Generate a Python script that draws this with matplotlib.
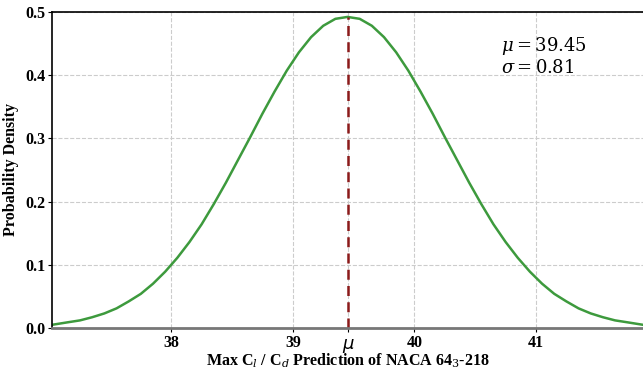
import matplotlib
matplotlib.use('Agg')
import matplotlib.pyplot as plt

mu = 39.45
sigma = 0.81

# points
x_vals = [37.02, 37.15, 37.25, 37.35, 37.45, 37.55, 37.65, 37.75, 37.85, 37.95,
          38.05, 38.15, 38.25, 38.35, 38.45, 38.55, 38.65, 38.75, 38.85, 38.95,
          39.05, 39.15, 39.25, 39.35, 39.45,
          39.55, 39.65, 39.75, 39.85, 39.95, 40.05, 40.15, 40.25, 40.35, 40.45,
          40.55, 40.65, 40.75, 40.85, 40.95, 41.05, 41.15, 41.25, 41.35, 41.45,
          41.55, 41.65, 41.75, 41.88]
y_vals = [0.005, 0.009, 0.012, 0.017, 0.023, 0.031, 0.042, 0.054, 0.070, 0.089,
          0.111, 0.136, 0.164, 0.196, 0.230, 0.266, 0.302, 0.339, 0.374, 0.407,
          0.436, 0.460, 0.478, 0.489, 0.492,
          0.489, 0.478, 0.460, 0.436, 0.407, 0.374, 0.339, 0.302, 0.266, 0.230,
          0.196, 0.164, 0.136, 0.111, 0.089, 0.070, 0.054, 0.042, 0.031, 0.023,
          0.017, 0.012, 0.009, 0.005]
peak = 0.492

x_ticks = [38, 39, mu, 40, 41]
x_tick_labels = ['38', '39', '\u03bc', '40', '41']
y_ticks = [0.0, 0.1, 0.2, 0.3, 0.4, 0.5]

plt.rcParams['font.family'] = ['Liberation Serif', 'DejaVu Serif']
plt.rcParams['mathtext.fontset'] = 'dejavuserif'

fig = plt.figure(figsize=(6.43, 3.71), dpi=100)
ax = fig.add_axes([0.081, 0.116, 0.919, 0.852])

ax.plot(x_vals, y_vals, color='#3d9a3d', linewidth=1.8)
ax.plot([mu, mu], [0, peak], color='#8b1a1a', linestyle='--', linewidth=1.8, dashes=(4, 2.5))

ax.set_xlim(mu - 3 * sigma, mu + 3 * sigma)
ax.set_ylim(0, 0.5)

ax.set_xticks(x_ticks)
ax.set_xticklabels(x_tick_labels)
ax.set_yticks(y_ticks)
ax.set_yticklabels(['%.1f' % v for v in y_ticks])
for lab in ax.get_xticklabels() + ax.get_yticklabels():
    lab.set_fontweight('bold')
    lab.set_fontsize(11.5)
mu_lab = ax.get_xticklabels()[2]
mu_lab.set_fontweight('normal')
mu_lab.set_fontstyle('italic')
mu_lab.set_family('DejaVu Sans')
mu_lab.set_fontsize(13)
ax.tick_params(length=3, pad=2)

ax.grid(True, linestyle='--', color='#cccccc', linewidth=0.8)
ax.set_axisbelow(True)

ax.spines['right'].set_visible(False)
ax.spines['bottom'].set_color('#777777')
ax.spines['bottom'].set_linewidth(2)
ax.spines['top'].set_linewidth(1.2)
ax.spines['left'].set_linewidth(1.2)

ax.set_xlabel(r'Max C$_l$ / C$_d$ Prediction of NACA 64$_3$-218', fontsize=11.5, fontweight='bold', labelpad=-1)
ax.set_ylabel('Probability Density', fontsize=11.5, fontweight='bold', labelpad=4)

ax.text(0.76, 0.86, r'$\mu = 39.45$' + '\n' + r'$\sigma = 0.81$', transform=ax.transAxes,
        fontsize=13, va='center', ha='left', linespacing=1.1)

fig.savefig('out.png', dpi=100)
